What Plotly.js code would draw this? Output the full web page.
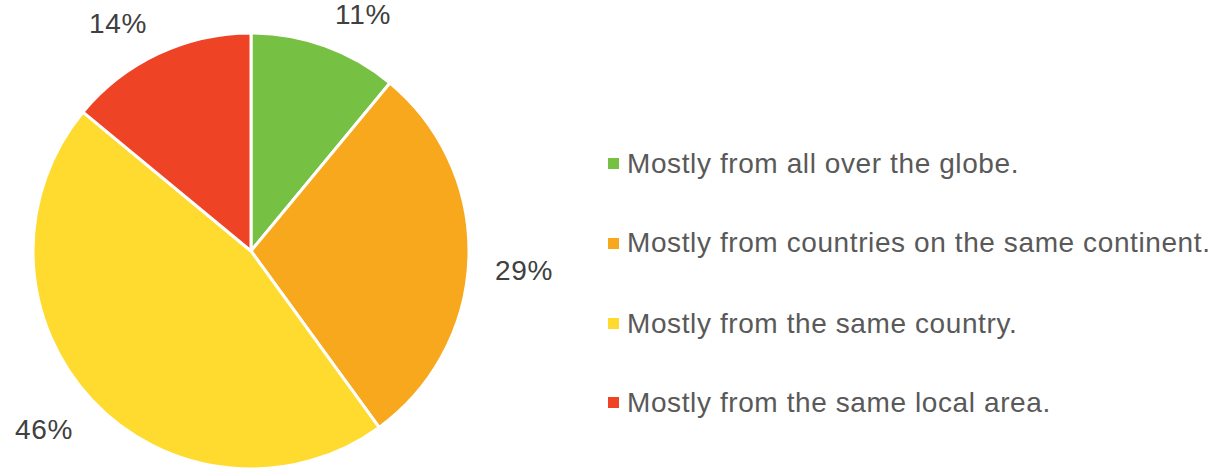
<!DOCTYPE html>
<html>
<head>
<meta charset="utf-8">
<script src="https://cdn.plot.ly/plotly-3.0.1.min.js"></script>
<style>
html,body{margin:0;padding:0;background:#fff;}
#chart{width:1221px;height:472px;}
#chart .annotation-text{letter-spacing:0.6px;}
</style>
</head>
<body>
<div id="chart"></div>
<script>
const labels = [
  "Mostly from all over the globe.",
  "Mostly from countries on the same continent.",
  "Mostly from the same country.",
  "Mostly from the same local area."
];
const values = [11, 29, 46, 14];
const colors = ["#76C043", "#F8A81C", "#FEDB2E", "#EF4326"];

const W = 1221, H = 472;
const cx = 251, cy = 251, R = 218;
const px = x => x / W;
const py = y => 1 - y / H;

const total = values.reduce((a, b) => a + b, 0);
const annotations = [];
const shapes = [];
let cum = 0;
const font = "Arial, 'Liberation Sans', sans-serif";
values.forEach((v, i) => {
  const mid = (cum + v / 2) / total * 2 * Math.PI;
  cum += v;
  const dx = Math.sin(mid), dy = -Math.cos(mid);
  const rl = R + 25, w = 60, h = 20;
  const lx = cx + dx * rl + Math.sign(dx) * w / 2;
  const ly = cy + dy * rl + Math.sign(dy) * h / 2 + 2;
  annotations.push({
    xref: "paper", yref: "paper", x: px(lx), y: py(ly),
    xanchor: "center", yanchor: "middle", showarrow: false,
    width: 70, align: "center",
    text: Math.round(v / total * 100) + "%",
    font: {family: font, size: 28, color: "#404040"}
  });
});

// legend
const legY = [161, 241, 321, 400];
labels.forEach((lab, i) => {
  shapes.push({
    type: "rect", xref: "paper", yref: "paper",
    x0: px(608), x1: px(619), y0: py(legY[i] - 3), y1: py(legY[i] + 8),
    fillcolor: colors[i], line: {width: 0}
  });
  annotations.push({
    xref: "paper", yref: "paper", x: px(625), y: py(legY[i] + 2),
    xanchor: "left", yanchor: "middle", showarrow: false,
    width: 595, align: "left",
    text: lab,
    font: {family: font, size: 28, color: "#595959"}
  });
});

const data = [{
  type: "pie",
  labels: labels,
  values: values,
  sort: false,
  direction: "clockwise",
  rotation: 0,
  marker: {colors: colors, line: {color: "#ffffff", width: 3}},
  textinfo: "none",
  hoverinfo: "label+percent",
  showlegend: false,
  domain: {x: [px(cx - R), px(cx + R)], y: [py(cy + R), py(cy - R)]}
}];

const layout = {
  width: W, height: H,
  margin: {l: 0, r: 0, t: 0, b: 0},
  paper_bgcolor: "#ffffff",
  plot_bgcolor: "#ffffff",
  showlegend: false,
  annotations: annotations,
  shapes: shapes,
  font: {family: font}
};

Plotly.newPlot("chart", data, layout, {displayModeBar: false, staticPlot: true});
</script>
</body>
</html>
